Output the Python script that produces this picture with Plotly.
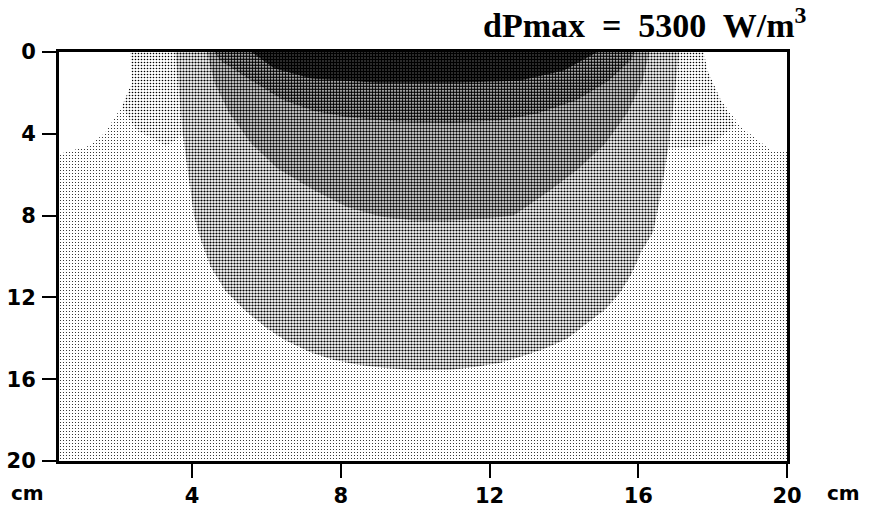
import plotly.graph_objects as go

# Power-density bands of the heating field (depth measured downward from the surface).
# Each band outline is given as (x, depth) points in cm.

# whole cross-section (weakest band)
section_x = [0.42, 20.0, 20.0, 0.42]
section_d = [0.0, 0.0, 20.0, 20.0]

# uncovered surface corners
corner_left_x = [0.42, 2.33, 2.38, 2.11, 1.66, 1.21, 0.49, 0.42]
corner_left_d = [0.0, 0.0, 1.5, 2.65, 3.95, 4.6, 4.95, 5.0]
corner_right_x = [17.76, 20.0, 20.0, 19.56, 18.76, 18.22, 17.86]
corner_right_d = [0.0, 0.0, 4.87, 4.79, 3.65, 2.35, 0.88]

# light shoulder next to the main lobe
shoulder_left_x = [2.33, 3.62, 3.7, 3.8, 3.3, 2.5, 2.11, 2.38]
shoulder_left_d = [0.0, 0.0, 2.0, 4.0, 4.6, 3.8, 2.65, 1.5]
shoulder_right_x = [16.95, 17.76, 17.86, 18.22, 18.6, 17.9, 16.7, 16.85]
shoulder_right_d = [0.0, 0.0, 0.88, 2.35, 3.6, 4.6, 4.75, 2.5]

# main lobe
lobe_x = [3.55, 3.65, 3.75, 3.9, 4.05, 4.2, 4.5, 4.9, 5.4, 6.0, 6.5, 7.2, 7.8, 8.5, 9.2,
          10.0, 10.9, 11.6, 12.3, 13.0, 13.5, 14.1, 14.6, 15.1, 15.5, 15.8, 16.1,
          16.4, 16.6, 16.8, 16.95, 17.1]
lobe_d = [0.0, 2.0, 4.0, 6.0, 8.0, 9.0, 10.5, 11.7, 12.6, 13.5, 14.1, 14.7, 15.05, 15.3,
          15.45, 15.55, 15.55, 15.4, 15.2, 14.8, 14.5, 14.0, 13.3, 12.6, 11.8, 10.9, 9.7,
          8.8, 7.0, 4.75, 2.5, 0.0]

# inner lobe
inner_x = [4.4, 4.6, 5.0, 5.6, 6.3, 7.27, 8.2, 9.06, 10.0, 10.86, 11.8, 12.65, 13.64,
           14.4, 15.1, 15.7, 16.1, 16.3]
inner_d = [0.0, 1.5, 3.0, 4.5, 5.7, 6.75, 7.6, 8.05, 8.25, 8.25, 8.15, 8.0, 6.75,
           5.7, 4.5, 3.0, 1.5, 0.0]

# near-surface maximum zone
core_x = [4.6, 4.75, 5.6, 6.45, 7.3, 8.25, 9.5, 10.95, 12.3, 13.3, 14.35, 15.2, 15.8, 15.9]
core_d = [0.0, 0.4, 1.4, 2.35, 2.9, 3.2, 3.4, 3.45, 3.35, 3.0, 2.35, 1.4, 0.4, 0.0]

peak_x = [5.6, 6.2, 7.2, 9.0, 11.0, 12.8, 14.0, 14.9]
peak_d = [0.0, 0.8, 1.3, 1.5, 1.5, 1.4, 0.9, 0.0]

x_ticks = [4, 8, 12, 16, 20]
y_ticks = [0, 4, 8, 12, 16, 20]

# dot screen per band: (cell size px, ink coverage)
band_screen = {
    "section": (3, 0.10),
    "shoulder": (3, 0.22),
    "lobe": (3, 0.42),
    "inner": (3, 0.52),
    "core": (3, 0.66),
    "peak": (3, 0.84),
}

fig = go.Figure()


def add_band(xs, ds, screen=None):
    if screen is None:
        fill = dict(fillcolor="white")
    else:
        size, ink = screen
        fill = dict(fillcolor="white",
                    fillpattern=dict(shape=".", size=size, solidity=ink,
                                     fgcolor="black", bgcolor="white",
                                     fillmode="replace"))
    fig.add_trace(go.Scatter(
        x=xs, y=ds, mode="lines", fill="toself",
        line=dict(width=0, color="white"), hoverinfo="skip", showlegend=False,
        **fill,
    ))


add_band(section_x, section_d, band_screen["section"])
add_band(shoulder_left_x, shoulder_left_d, band_screen["shoulder"])
add_band(shoulder_right_x, shoulder_right_d, band_screen["shoulder"])
add_band(corner_left_x, corner_left_d)
add_band(corner_right_x, corner_right_d)
add_band(lobe_x, lobe_d, band_screen["lobe"])
add_band(inner_x, inner_d, band_screen["inner"])
add_band(core_x, core_d, band_screen["core"])
add_band(peak_x, peak_d, band_screen["peak"])

tick_font = dict(family="DejaVu Sans", size=21, color="black", weight="bold")
axis_style = dict(
    showgrid=False, zeroline=False, showline=True, linecolor="black", linewidth=3,
    mirror=True, ticks="outside", ticklen=14, tickwidth=2, tickcolor="black",
    tickfont=tick_font, automargin=False,
)

fig.update_layout(
    template="none",
    width=869, height=507,
    margin=dict(l=59, r=82, t=52, b=46),
    paper_bgcolor="white",
    plot_bgcolor="white",
    font=dict(family="DejaVu Sans", color="black"),
    xaxis=dict(range=[0.42, 20], tickvals=x_ticks, ticktext=[str(v) for v in x_ticks],
               ticklabelstandoff=0, **axis_style),
    yaxis=dict(range=[20, 0], tickvals=y_ticks, ticktext=[str(v) for v in y_ticks],
               ticklabelstandoff=2, **axis_style),
)

fig.add_annotation(
    xref="paper", yref="paper", x=1.03, y=1.07, xanchor="right", yanchor="middle",
    text="dPmax\u00a0 =\u00a0 5300\u00a0 W/m<sup>3</sup>", showarrow=False,
    font=dict(family="Liberation Serif", size=34, color="black", weight="bold"),
)
for xp in [-0.043, 1.077]:
    fig.add_annotation(
        xref="paper", yref="paper", x=xp, y=-0.078, xanchor="center", yanchor="middle",
        text="cm", showarrow=False,
        font=dict(family="DejaVu Sans", size=20, color="black", weight="bold"),
    )

fig.write_html("out.html")
